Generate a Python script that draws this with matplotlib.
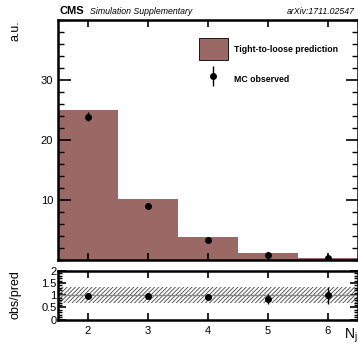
import numpy as np
import matplotlib
matplotlib.use('Agg')
import matplotlib.pyplot as plt
from matplotlib.patches import Patch
from matplotlib.legend_handler import HandlerErrorbar
from matplotlib.ticker import MultipleLocator

plt.rcParams['font.family'] = ['Liberation Sans', 'DejaVu Sans']
plt.rcParams['hatch.linewidth'] = 0.6

# bins of N_j
nj = [2, 3, 4, 5, 6]
pred = [25.0, 10.1, 3.8, 1.2, 0.4]
obs = [23.9, 9.0, 3.4, 0.9, 0.4]
obs_err = [0.7, 0.3, 0.2, 0.15, 0.1]
ratio = [0.98, 0.95, 0.94, 0.84, 1.0]
ratio_err = [0.03, 0.04, 0.06, 0.2, 0.35]
band_lo, band_hi = 0.70, 1.35

brown = '#9a6865'
edges = np.arange(1.5, 7.0, 1.0)

fig = plt.figure(figsize=(3.58, 3.5), dpi=100)
ax = fig.add_axes([0.162, 0.257, 0.838, 0.686])
rx = fig.add_axes([0.162, 0.087, 0.838, 0.139])

ax.stairs(pred, edges, fill=True, color=brown, linewidth=0)
eb = ax.errorbar(nj, obs, yerr=obs_err, fmt='o', color='black', ms=4, elinewidth=1, capsize=0)
ax.set_xlim(1.5, 6.5)
ax.set_ylim(0, 40)
ax.yaxis.set_minor_locator(MultipleLocator(2))
ax.set_xticks(nj)
ax.set_xticklabels([])
ax.set_yticks([10, 20, 30])

h1 = Patch(facecolor=brown, edgecolor='black', linewidth=0.6)
ax.legend([h1, eb], ['Tight-to-loose prediction', 'MC observed'],
          loc='upper right', bbox_to_anchor=(0.935, 0.924), frameon=False,
          prop={'weight': 'bold', 'size': 6.3}, handlelength=3.4, handleheight=3.5,
          labelspacing=1.0, handletextpad=0.7, borderpad=0, borderaxespad=0,
          handler_map={eb: HandlerErrorbar(xerr_size=0.5, yerr_size=1.15)})

# ratio panel
rx.fill_between([1.5, 6.5], band_lo, band_hi, facecolor='none', edgecolor='#444444',
                hatch='////////', linewidth=0)
rx.axhline(1.0, color='#888888', linewidth=1)
rx.errorbar(nj, ratio, yerr=ratio_err, fmt='o', color='black', ms=4, elinewidth=1, capsize=0)
rx.set_xlim(1.5, 6.5)
rx.set_ylim(0, 2)
rx.set_xticks(nj)
rx.set_yticks([0, 0.5, 1, 1.5, 2])
rx.set_yticklabels(['0', '0.5', '1', '1.5', '2'])
rx.yaxis.set_minor_locator(MultipleLocator(0.1))

for a in (ax, rx):
    a.tick_params(which='both', direction='in', top=True, right=True, labelsize=8)
    a.tick_params(which='major', length=9, width=1.2)
    a.tick_params(which='minor', length=4.5, width=1.0)
    for s in a.spines.values():
        s.set_linewidth(1.8)
ax.tick_params(axis='x', which='major', length=5)
rx.tick_params(axis='y', which='major', length=6, pad=1)
rx.tick_params(axis='y', which='minor', length=3)
rx.tick_params(axis='x', which='major', length=5, pad=5)

fig.text(0.042, 0.943, 'a.u.', rotation=90, ha='center', va='top', fontsize=9)
fig.text(0.042, 0.157, 'obs/pred', rotation=90, ha='center', va='center', fontsize=9)
fig.text(0.962, 0.015, 'N$_\\mathregular{j}$', ha='left', va='bottom', fontsize=10)
fig.text(0.165, 0.955, 'CMS', weight='bold', fontsize=8, ha='left', va='bottom')
fig.text(0.25, 0.955, 'Simulation Supplementary', style='italic', fontsize=6.3,
         ha='left', va='bottom')
fig.text(0.99, 0.955, 'arXiv:1711.02547', style='italic', fontsize=6.3,
         ha='right', va='bottom')

fig.savefig('out.png', dpi=100)
